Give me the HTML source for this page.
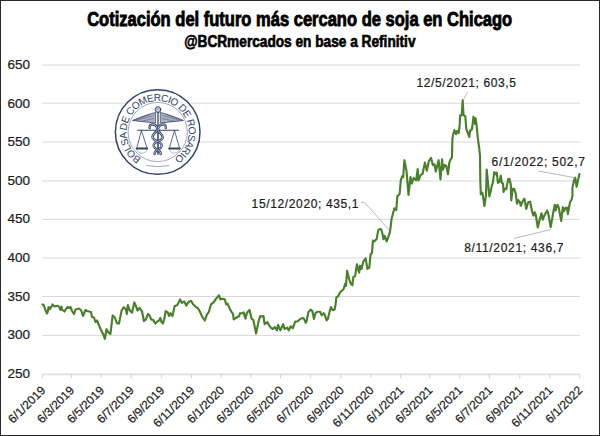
<!DOCTYPE html>
<html><head><meta charset="utf-8"><style>
html,body{margin:0;padding:0;background:#fff;}
#w{position:relative;width:600px;height:436px;overflow:hidden;background:#fff;}
#b{position:absolute;left:0;top:0;width:598px;height:434px;border:1px solid #282828;}
svg{position:absolute;left:0;top:0;}
text{font-family:"Liberation Sans",sans-serif;}
.xl,.yl,.an{font-size:12px;fill:#1e1e1e;stroke:#1e1e1e;stroke-width:0.22px;}
.t1{font-size:19.7px;font-weight:bold;fill:#000;stroke:#000;stroke-width:0.85px;}
.t2{font-size:16px;font-weight:bold;fill:#000;stroke:#000;stroke-width:0.65px;}
.lg{font-size:10.1px;fill:#33446a;}
</style></head><body><div id="w">
<svg width="600" height="436" viewBox="0 0 600 436">
<line x1="42" y1="335.40" x2="580" y2="335.40" stroke="#d8d8d8" stroke-width="1"/>
<line x1="42" y1="296.50" x2="580" y2="296.50" stroke="#d8d8d8" stroke-width="1"/>
<line x1="42" y1="258.00" x2="580" y2="258.00" stroke="#d8d8d8" stroke-width="1"/>
<line x1="42" y1="219.30" x2="580" y2="219.30" stroke="#d8d8d8" stroke-width="1"/>
<line x1="42" y1="181.00" x2="580" y2="181.00" stroke="#d8d8d8" stroke-width="1"/>
<line x1="42" y1="142.00" x2="580" y2="142.00" stroke="#d8d8d8" stroke-width="1"/>
<line x1="42" y1="103.20" x2="580" y2="103.20" stroke="#d8d8d8" stroke-width="1"/>
<line x1="42" y1="65.00" x2="580" y2="65.00" stroke="#d8d8d8" stroke-width="1"/>
<line x1="42" y1="374.4" x2="580" y2="374.4" stroke="#e0e0e0" stroke-width="1.8"/>
<line x1="42.40" y1="374.30" x2="42.40" y2="378.2" stroke="#d4d4d4" stroke-width="1.1"/>
<line x1="71.32" y1="374.30" x2="71.32" y2="378.2" stroke="#d4d4d4" stroke-width="1.1"/>
<line x1="101.22" y1="374.30" x2="101.22" y2="378.2" stroke="#d4d4d4" stroke-width="1.1"/>
<line x1="131.12" y1="374.30" x2="131.12" y2="378.2" stroke="#d4d4d4" stroke-width="1.1"/>
<line x1="161.51" y1="374.30" x2="161.51" y2="378.2" stroke="#d4d4d4" stroke-width="1.1"/>
<line x1="191.40" y1="374.30" x2="191.40" y2="378.2" stroke="#d4d4d4" stroke-width="1.1"/>
<line x1="221.30" y1="374.30" x2="221.30" y2="378.2" stroke="#d4d4d4" stroke-width="1.1"/>
<line x1="250.71" y1="374.30" x2="250.71" y2="378.2" stroke="#d4d4d4" stroke-width="1.1"/>
<line x1="280.61" y1="374.30" x2="280.61" y2="378.2" stroke="#d4d4d4" stroke-width="1.1"/>
<line x1="310.51" y1="374.30" x2="310.51" y2="378.2" stroke="#d4d4d4" stroke-width="1.1"/>
<line x1="340.90" y1="374.30" x2="340.90" y2="378.2" stroke="#d4d4d4" stroke-width="1.1"/>
<line x1="370.80" y1="374.30" x2="370.80" y2="378.2" stroke="#d4d4d4" stroke-width="1.1"/>
<line x1="400.70" y1="374.30" x2="400.70" y2="378.2" stroke="#d4d4d4" stroke-width="1.1"/>
<line x1="429.62" y1="374.30" x2="429.62" y2="378.2" stroke="#d4d4d4" stroke-width="1.1"/>
<line x1="459.51" y1="374.30" x2="459.51" y2="378.2" stroke="#d4d4d4" stroke-width="1.1"/>
<line x1="489.41" y1="374.30" x2="489.41" y2="378.2" stroke="#d4d4d4" stroke-width="1.1"/>
<line x1="519.80" y1="374.30" x2="519.80" y2="378.2" stroke="#d4d4d4" stroke-width="1.1"/>
<line x1="549.70" y1="374.30" x2="549.70" y2="378.2" stroke="#d4d4d4" stroke-width="1.1"/>
<line x1="579.60" y1="374.30" x2="579.60" y2="378.2" stroke="#d4d4d4" stroke-width="1.1"/>
<text class="xl" transform="translate(46.10,391) rotate(-45)" text-anchor="end">6/1/2019</text>
<text class="xl" transform="translate(75.02,391) rotate(-45)" text-anchor="end">6/3/2019</text>
<text class="xl" transform="translate(104.92,391) rotate(-45)" text-anchor="end">6/5/2019</text>
<text class="xl" transform="translate(134.82,391) rotate(-45)" text-anchor="end">6/7/2019</text>
<text class="xl" transform="translate(165.21,391) rotate(-45)" text-anchor="end">6/9/2019</text>
<text class="xl" transform="translate(195.10,391) rotate(-45)" text-anchor="end">6/11/2019</text>
<text class="xl" transform="translate(225.00,391) rotate(-45)" text-anchor="end">6/1/2020</text>
<text class="xl" transform="translate(254.41,391) rotate(-45)" text-anchor="end">6/3/2020</text>
<text class="xl" transform="translate(284.31,391) rotate(-45)" text-anchor="end">6/5/2020</text>
<text class="xl" transform="translate(314.21,391) rotate(-45)" text-anchor="end">6/7/2020</text>
<text class="xl" transform="translate(344.60,391) rotate(-45)" text-anchor="end">6/9/2020</text>
<text class="xl" transform="translate(374.50,391) rotate(-45)" text-anchor="end">6/11/2020</text>
<text class="xl" transform="translate(404.40,391) rotate(-45)" text-anchor="end">6/1/2021</text>
<text class="xl" transform="translate(433.32,391) rotate(-45)" text-anchor="end">6/3/2021</text>
<text class="xl" transform="translate(463.21,391) rotate(-45)" text-anchor="end">6/5/2021</text>
<text class="xl" transform="translate(493.11,391) rotate(-45)" text-anchor="end">6/7/2021</text>
<text class="xl" transform="translate(523.50,391) rotate(-45)" text-anchor="end">6/9/2021</text>
<text class="xl" transform="translate(553.40,391) rotate(-45)" text-anchor="end">6/11/2021</text>
<text class="xl" transform="translate(583.30,391) rotate(-45)" text-anchor="end">6/1/2022</text>
<text class="yl" x="7.6" y="377.70" textLength="22.5" lengthAdjust="spacingAndGlyphs">250</text>
<text class="yl" x="7.6" y="339.10" textLength="22.5" lengthAdjust="spacingAndGlyphs">300</text>
<text class="yl" x="7.6" y="300.50" textLength="22.5" lengthAdjust="spacingAndGlyphs">350</text>
<text class="yl" x="7.6" y="261.90" textLength="22.5" lengthAdjust="spacingAndGlyphs">400</text>
<text class="yl" x="7.6" y="223.30" textLength="22.5" lengthAdjust="spacingAndGlyphs">450</text>
<text class="yl" x="7.6" y="184.70" textLength="22.5" lengthAdjust="spacingAndGlyphs">500</text>
<text class="yl" x="7.6" y="146.10" textLength="22.5" lengthAdjust="spacingAndGlyphs">550</text>
<text class="yl" x="7.6" y="107.50" textLength="22.5" lengthAdjust="spacingAndGlyphs">600</text>
<text class="yl" x="7.6" y="68.90" textLength="22.5" lengthAdjust="spacingAndGlyphs">650</text>

<g transform="translate(157.7,132.0)">
  <circle r="42.3" fill="#ffffff" fill-opacity="0.85" stroke="#33446a" stroke-width="1.5"/>
  <circle r="29.6" fill="none" stroke="#33446a" stroke-width="0.6" stroke-opacity="0.75"/>
  <path id="arc" d="M 0,31.0 A 31.0 31.0 0 1 1 0,-31.0 A 31.0 31.0 0 1 1 0,31.0" fill="none"/>
  <text class="lg"><textPath href="#arc" startOffset="50%" text-anchor="middle" textLength="160" lengthAdjust="spacing">BOLSA DE COMERCIO DE ROSARIO</textPath></text>
  <g fill="none" stroke="#33446a" stroke-linecap="round" stroke-linejoin="round">
    <line x1="0.3" y1="-19.5" x2="0.3" y2="22" stroke-width="1.6"/>
    <line x1="0.3" y1="-19.5" x2="0.3" y2="-3" stroke-width="0.6" stroke="#c8ccd6"/>
    <circle cx="0.3" cy="-22.4" r="2.9" stroke-width="0.9" fill="#b9bfcc"/>
    <path d="M -2.5,-19.5 C -8,-18 -17,-15 -25.2,-11.5 C -18,-10.6 -10,-10 -2.5,-9 Z" stroke-width="0.8" fill="#aeb4c3"/>
    <path d="M 3,-19.5 C 8.5,-18 17.5,-15 25.7,-11.5 C 18.5,-10.6 10.5,-10 3,-9 Z" stroke-width="0.8" fill="#aeb4c3"/>
    <path d="M -4,-16.5 L -21,-11.8 M -4,-13.5 L -16,-10.8 M -8,-17.5 L -24,-11.6" stroke-width="0.45"/>
    <path d="M 4.5,-16.5 L 21.5,-11.8 M 4.5,-13.5 L 16.5,-10.8 M 8.5,-17.5 L 24.5,-11.6" stroke-width="0.45"/>
    <path d="M -20,-1.8 L 21,-1.8" stroke-width="1.1"/>
    <path d="M -16.3,-1.5 L -20.9,16.2 M -16.3,-1.5 L -10.6,16.2" stroke-width="0.8"/>
    <path d="M 16.8,-1.5 L 11.6,16.2 M 16.8,-1.5 L 21.9,16.2" stroke-width="0.8"/>
    <path d="M -20.9,16.5 L -10.6,16.5" stroke-width="2.2"/>
    <path d="M 11.6,16.5 L 21.9,16.5" stroke-width="2.2"/>
    <path d="M -21,17.5 C -19.5,22.5 -12,22.5 -10.5,17.5" stroke-width="0.6" stroke-opacity="0.6"/>
    <path d="M 11.5,17.5 C 13,22.5 20.5,22.5 22,17.5" stroke-width="0.6" stroke-opacity="0.6"/>
    <path d="M -8,-4 C -9,-8 -3,-9 -1,-5 C 2,0 -7,2 -5,6 C -3,10 5,9 4,14 C 3,18 -4,18 -3,22" stroke-width="2.4"/>
    <path d="M -8,-4 C -9,-8 -3,-9 -1,-5 C 2,0 -7,2 -5,6 C -3,10 5,9 4,14 C 3,18 -4,18 -3,22" stroke-width="0.9" stroke="#c8ccd6"/>
    <path d="M 8,-4 C 9,-8 3,-9 1,-5 C -2,0 6,2 5,6 C 3,10 -5,9 -4,14 C -3,18 4,18 3,22" stroke-width="2.4"/>
    <path d="M 8,-4 C 9,-8 3,-9 1,-5 C -2,0 6,2 5,6 C 3,10 -5,9 -4,14 C -3,18 4,18 3,22" stroke-width="0.9" stroke="#c8ccd6"/>
    <path d="M -11,33.6 Q 0,35.8 11,33.6" stroke-width="0.8" stroke-opacity="0.6"/>
  </g>
</g>

<path d="M 42.5,304.5 L 44.0,305.5 L 45.0,309.0 L 47.0,313.5 L 48.0,311.0 L 48.5,307.0 L 50.0,309.0 L 52.5,304.5 L 54.5,306.5 L 56.5,306.0 L 58.0,306.0 L 59.5,307.5 L 60.5,310.0 L 61.5,306.5 L 62.0,309.5 L 64.5,311.5 L 66.0,309.0 L 67.5,307.0 L 69.0,308.0 L 70.5,307.0 L 72.0,311.0 L 74.0,314.0 L 75.5,309.5 L 77.5,309.0 L 79.0,308.5 L 81.0,310.0 L 83.0,316.0 L 85.5,310.0 L 87.0,311.0 L 89.0,311.5 L 91.0,312.0 L 92.0,317.0 L 94.0,317.5 L 95.5,322.0 L 97.0,320.5 L 100.3,328.5 L 103.1,334.0 L 104.9,338.8 L 106.5,329.2 L 108.6,332.6 L 110.4,334.0 L 112.7,315.4 L 114.8,317.5 L 116.8,323.0 L 118.9,323.7 L 121.6,310.6 L 123.7,307.2 L 125.8,309.3 L 126.9,314.1 L 127.8,305.1 L 129.9,310.6 L 132.0,312.7 L 134.3,302.4 L 136.1,306.5 L 137.5,310.6 L 139.5,307.9 L 142.0,311.3 L 143.9,321.0 L 145.7,319.6 L 148.0,313.9 L 149.8,316.0 L 151.2,319.4 L 153.3,320.1 L 155.3,323.5 L 157.4,321.5 L 158.8,320.8 L 160.4,318.0 L 161.5,322.1 L 162.9,323.5 L 164.3,318.7 L 165.6,311.1 L 167.7,312.5 L 169.1,316.0 L 170.4,313.2 L 172.5,316.0 L 174.6,306.3 L 177.3,305.0 L 180.1,299.4 L 181.9,302.9 L 184.2,301.5 L 186.3,305.6 L 188.3,302.2 L 191.1,300.8 L 193.1,304.3 L 195.2,306.3 L 198.0,308.4 L 200.0,311.8 L 202.1,316.6 L 204.8,320.5 L 206.9,314.6 L 208.9,311.8 L 211.0,304.3 L 213.8,302.2 L 216.5,298.1 L 219.0,295.3 L 220.4,299.4 L 222.7,298.8 L 224.8,299.4 L 226.1,304.3 L 227.5,303.6 L 229.6,308.4 L 231.4,311.8 L 233.0,313.9 L 233.7,319.4 L 235.8,318.0 L 239.2,316.0 L 239.9,313.2 L 242.6,313.2 L 243.7,312.5 L 245.4,318.7 L 246.8,313.2 L 249.5,309.8 L 251.6,318.7 L 253.4,320.1 L 256.1,333.5 L 258.4,322.1 L 260.2,316.0 L 261.9,316.6 L 263.5,316.0 L 264.6,324.2 L 267.4,322.1 L 268.8,324.9 L 270.8,327.6 L 272.9,329.0 L 274.9,327.0 L 277.0,330.4 L 278.1,324.9 L 280.4,330.4 L 283.2,324.2 L 284.6,329.0 L 287.3,327.6 L 288.7,330.4 L 290.8,326.3 L 292.8,328.3 L 295.2,321.5 L 297.6,321.5 L 299.7,319.4 L 302.6,317.9 L 304.1,318.9 L 305.7,322.8 L 306.7,321.0 L 308.3,312.2 L 310.8,309.6 L 312.4,311.2 L 313.9,318.9 L 315.5,313.2 L 317.5,311.7 L 320.1,311.7 L 321.7,315.3 L 323.7,313.2 L 324.8,314.8 L 326.6,320.4 L 327.9,318.9 L 329.4,312.2 L 331.0,307.0 L 332.5,310.1 L 334.6,309.6 L 335.6,304.4 L 336.3,297.7 L 338.2,296.2 L 340.2,292.1 L 342.8,290.0 L 343.7,288.7 L 345.1,283.9 L 346.0,286.0 L 347.1,270.8 L 349.2,279.1 L 350.6,283.2 L 352.4,285.3 L 353.3,277.0 L 355.1,276.3 L 356.9,264.4 L 357.8,267.6 L 359.2,272.6 L 360.1,265.7 L 361.5,269.0 L 363.3,261.6 L 365.6,258.4 L 366.5,263.4 L 367.4,268.9 L 369.3,267.6 L 370.6,254.3 L 372.0,252.9 L 372.9,240.5 L 374.3,241.4 L 376.6,239.1 L 378.3,230.1 L 380.1,228.9 L 381.2,229.5 L 382.4,233.5 L 383.5,239.2 L 384.7,235.8 L 386.6,241.5 L 388.1,237.5 L 390.0,231.8 L 391.0,223.8 L 391.5,219.2 L 392.7,214.6 L 394.4,208.4 L 396.3,210.0 L 397.3,196.4 L 399.6,194.0 L 400.8,180.3 L 402.1,176.3 L 403.2,177.1 L 404.4,160.2 L 406.5,170.7 L 408.5,194.8 L 410.5,177.1 L 411.8,183.5 L 413.7,177.9 L 416.1,180.3 L 417.7,169.1 L 418.5,180.3 L 420.9,174.7 L 422.5,173.9 L 424.9,162.7 L 426.8,170.7 L 428.9,161.1 L 431.0,157.8 L 432.9,165.1 L 434.5,164.3 L 435.8,171.5 L 438.6,160.2 L 440.5,179.4 L 442.1,159.3 L 442.9,169.6 L 444.6,164.9 L 446.2,166.0 L 448.0,174.2 L 449.3,162.9 L 450.3,159.8 L 451.9,157.7 L 452.4,138.1 L 454.4,130.1 L 456.0,134.2 L 457.0,131.1 L 458.6,133.2 L 459.6,126.0 L 460.1,115.6 L 461.7,115.1 L 462.7,100.2 L 463.5,115.1 L 465.3,116.2 L 466.3,129.1 L 467.9,133.2 L 469.4,137.0 L 469.9,131.1 L 472.0,129.1 L 473.5,116.7 L 475.1,123.9 L 475.6,118.2 L 476.6,124.9 L 477.7,137.3 L 479.2,148.0 L 480.0,156.0 L 480.3,180.0 L 480.8,194.3 L 482.4,192.7 L 484.4,206.0 L 486.0,194.8 L 486.7,169.5 L 489.4,196.5 L 491.7,186.5 L 492.9,182.4 L 494.3,172.1 L 495.6,174.1 L 496.8,172.6 L 497.9,182.9 L 499.4,181.9 L 500.8,175.7 L 501.8,182.9 L 503.0,183.4 L 503.5,192.0 L 504.9,188.6 L 506.3,189.1 L 508.2,179.3 L 509.4,178.8 L 510.8,184.4 L 511.3,200.4 L 512.6,188.8 L 514.1,188.8 L 515.7,193.4 L 517.0,203.7 L 518.3,200.1 L 519.8,202.2 L 520.8,205.8 L 522.4,201.7 L 524.4,198.6 L 526.3,208.9 L 528.1,202.2 L 530.1,201.7 L 532.2,212.0 L 533.4,215.6 L 534.6,212.2 L 535.7,214.5 L 537.8,227.5 L 539.2,221.4 L 541.5,213.3 L 542.8,219.7 L 544.3,215.6 L 547.2,210.5 L 548.3,213.9 L 550.7,227.0 L 552.8,215.3 L 553.6,210.5 L 554.8,204.8 L 555.6,210.5 L 556.4,207.2 L 557.6,204.8 L 558.8,208.0 L 561.2,220.9 L 562.8,207.2 L 564.0,211.3 L 565.3,208.0 L 566.9,207.6 L 567.9,214.1 L 569.3,206.0 L 570.1,202.0 L 571.7,199.6 L 572.5,195.2 L 572.4,187.9 L 574.1,179.9 L 575.2,177.6 L 576.6,186.8 L 578.1,179.9 L 579.4,174.0" fill="none" stroke="#4a802d" stroke-width="2.15" stroke-linejoin="round" stroke-linecap="round"/>
<path d="M 467.4,92.2 L 463.3,99.9" stroke="#a6a6a6" stroke-width="0.8" fill="none"/>
<path d="M 360.9,202.3 L 364.4,202.3 L 389.5,230.3" stroke="#a6a6a6" stroke-width="0.8" fill="none"/>
<path d="M 538.5,171 L 575.2,177.8" stroke="#a6a6a6" stroke-width="0.8" fill="none"/>
<path d="M 514,238.4 L 550.6,229.6" stroke="#a6a6a6" stroke-width="0.8" fill="none"/>
<text class="an" x="416.5" y="87.0" textLength="99.5" lengthAdjust="spacing">12/5/2021; 603,5</text>
<text class="an" x="251.6" y="207.5" textLength="106.9" lengthAdjust="spacing">15/12/2020; 435,1</text>
<text class="an" x="491.5" y="165.8" textLength="93.5" lengthAdjust="spacing">6/1/2022; 502,7</text>
<text class="an" x="464.2" y="252.4" textLength="99.30000000000001" lengthAdjust="spacing">8/11/2021; 436,7</text>
<text class="t1" x="87.2" y="26.0" textLength="425" lengthAdjust="spacingAndGlyphs">Cotización del futuro más cercano de soja en Chicago</text>
<text class="t2" x="184.2" y="46.7" textLength="231.3" lengthAdjust="spacingAndGlyphs">@BCRmercados en base a Refinitiv</text>
</svg><div id="b"></div></div></body></html>
